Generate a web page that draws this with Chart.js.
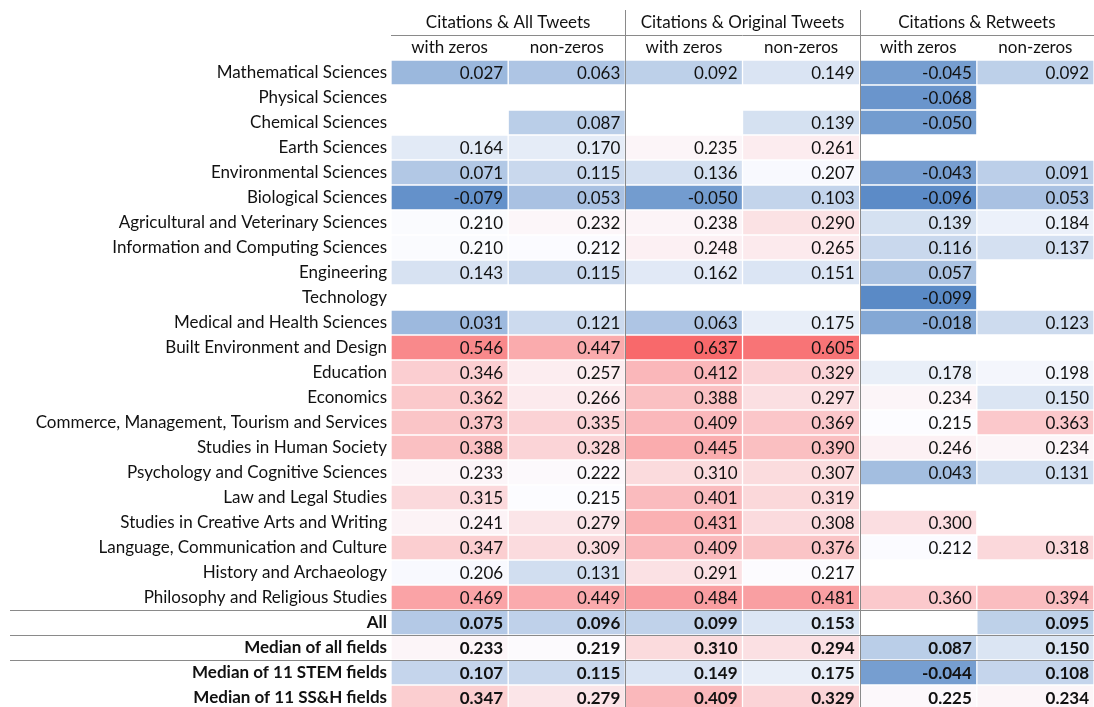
<!DOCTYPE html>
<html>
<head>
<meta charset="utf-8">
<script src="https://cdn.jsdelivr.net/npm/chart.js@4.4.0/dist/chart.umd.min.js"></script>
<style>
  html, body { margin: 0; padding: 0; background: #fff; overflow: hidden; }
  #wrap { width: 1094px; height: 710px; position: relative; }
</style>
</head>
<body>
<div id="wrap"><canvas id="tabela"></canvas></div>
<script>
var campos = [
  "Mathematical Sciences", "Physical Sciences", "Chemical Sciences", "Earth Sciences",
  "Environmental Sciences", "Biological Sciences", "Agricultural and Veterinary Sciences",
  "Information and Computing Sciences", "Engineering", "Technology",
  "Medical and Health Sciences", "Built Environment and Design", "Education", "Economics",
  "Commerce, Management, Tourism and Services", "Studies in Human Society",
  "Psychology and Cognitive Sciences", "Law and Legal Studies",
  "Studies in Creative Arts and Writing", "Language, Communication and Culture",
  "History and Archaeology", "Philosophy and Religious Studies",
  "All", "Median of all fields", "Median of 11 STEM fields", "Median of 11 SS&H fields"
];
var grupos = ["Citations & All Tweets", "Citations & Original Tweets", "Citations & Retweets"];
var subColunas = ["with zeros", "non-zeros", "with zeros", "non-zeros", "with zeros", "non-zeros"];

var todosComZeros = [0.027, null, null, 0.164, 0.071, -0.079, 0.210, 0.210, 0.143, null, 0.031, 0.546, 0.346, 0.362, 0.373, 0.388, 0.233, 0.315, 0.241, 0.347, 0.206, 0.469, 0.075, 0.233, 0.107, 0.347];
var todosSemZeros = [0.063, null, 0.087, 0.170, 0.115, 0.053, 0.232, 0.212, 0.115, null, 0.121, 0.447, 0.257, 0.266, 0.335, 0.328, 0.222, 0.215, 0.279, 0.309, 0.131, 0.449, 0.096, 0.219, 0.115, 0.279];
var origComZeros = [0.092, null, null, 0.235, 0.136, -0.050, 0.238, 0.248, 0.162, null, 0.063, 0.637, 0.412, 0.388, 0.409, 0.445, 0.310, 0.401, 0.431, 0.409, 0.291, 0.484, 0.099, 0.310, 0.149, 0.409];
var origSemZeros = [0.149, null, 0.139, 0.261, 0.207, 0.103, 0.290, 0.265, 0.151, null, 0.175, 0.605, 0.329, 0.297, 0.369, 0.390, 0.307, 0.319, 0.308, 0.376, 0.217, 0.481, 0.153, 0.294, 0.175, 0.329];
var rtComZeros = [-0.045, -0.068, -0.050, null, -0.043, -0.096, 0.139, 0.116, 0.057, -0.099, -0.018, null, 0.178, 0.234, 0.215, 0.246, 0.043, null, 0.300, 0.212, null, 0.360, null, 0.087, -0.044, 0.225];
var rtSemZeros = [0.092, null, null, null, 0.091, 0.053, 0.184, 0.137, null, null, 0.123, null, 0.198, 0.150, 0.363, 0.234, 0.131, null, null, 0.318, null, 0.394, 0.095, 0.150, 0.108, 0.234];

var colunas = [todosComZeros, todosSemZeros, origComZeros, origSemZeros, rtComZeros, rtSemZeros];

var fonte = "Lato, 'Open Sans', sans-serif";
var tamanho = 17;
var azul = [90, 138, 198];
var branco = [252, 252, 255];
var vermelho = [248, 105, 107];
var minimo = -0.099, meio = 0.214, maximo = 0.637;

function mistura(a, b, t) {
  return "rgb(" + Math.round(a[0] + (b[0] - a[0]) * t) + "," +
    Math.round(a[1] + (b[1] - a[1]) * t) + "," +
    Math.round(a[2] + (b[2] - a[2]) * t) + ")";
}

function corDoValor(v) {
  if (v === null) return "rgba(0,0,0,0)";
  if (v <= meio) return mistura(branco, azul, Math.min(1, (meio - v) / (meio - minimo)));
  return mistura(branco, vermelho, Math.min(1, (v - meio) / (maximo - meio)));
}

// ultimas 4 linhas em negrito
function ehTotal(i) {
  return i >= 22;
}

var datasets = [];
for (var j = 0; j < colunas.length; j++) {
  var col = colunas[j];
  datasets.push({
    label: subColunas[j],
    data: col.map(function (v) { return v === null ? null : [j, j + 1]; }),
    valores: col,
    backgroundColor: col.map(corDoValor),
    borderColor: "#ffffff",
    borderWidth: 1,
    borderSkipped: false,
    grouped: false,
    barPercentage: 1,
    categoryPercentage: 1
  });
}

const textoCelulas = {
  id: "textoCelulas",
  afterDatasetsDraw(chart) {
    const ctx = chart.ctx;
    ctx.save();
    ctx.textAlign = "right";
    ctx.textBaseline = "middle";
    ctx.fillStyle = "#111";
    chart.data.datasets.forEach(function (ds, d) {
      const meta = chart.getDatasetMeta(d);
      meta.data.forEach(function (el, i) {
        const v = ds.valores[i];
        if (v === null) return;
        ctx.font = (ehTotal(i) ? "bold " : "") + tamanho + "px " + fonte;
        ctx.fillText(v.toFixed(3), Math.max(el.x, el.base) - 5, el.y + 1);
      });
    });
    ctx.restore();
  }
};

const cabecalhoLinhas = {
  id: "cabecalhoLinhas",
  afterDraw(chart) {
    const ctx = chart.ctx;
    const x = chart.scales.x;
    const y = chart.scales.y;
    const area = chart.chartArea;
    ctx.save();
    ctx.fillStyle = "#111";
    ctx.textAlign = "center";
    ctx.textBaseline = "middle";
    ctx.font = tamanho + "px " + fonte;
    for (var g = 0; g < grupos.length; g++) {
      ctx.fillText(grupos[g], (x.getPixelForValue(g * 2) + x.getPixelForValue(g * 2 + 2)) / 2, 23);
    }
    for (var s = 0; s < subColunas.length; s++) {
      ctx.fillText(subColunas[s], (x.getPixelForValue(s) + x.getPixelForValue(s + 1)) / 2, 48);
    }
    ctx.strokeStyle = "#8a8a8a";
    ctx.lineWidth = 1;
    ctx.beginPath();
    ctx.moveTo(area.left, 35.5);
    ctx.lineTo(area.right, 35.5);
    [2, 4].forEach(function (c) {
      const px = Math.round(x.getPixelForValue(c)) + 0.5;
      ctx.moveTo(px, 10);
      ctx.lineTo(px, area.bottom);
    });
    [21, 22, 23].forEach(function (r) {
      const py = Math.round((y.getPixelForValue(r) + y.getPixelForValue(r + 1)) / 2) + 0.5;
      ctx.moveTo(10, py);
      ctx.lineTo(area.right, py);
    });
    ctx.stroke();
    ctx.restore();
  }
};

const config = {
  type: "bar",
  data: { labels: campos, datasets: datasets },
  options: {
    indexAxis: "y",
    responsive: true,
    maintainAspectRatio: false,
    animation: false,
    layout: { padding: { top: 60, left: 0, right: 0, bottom: 0 } },
    plugins: { legend: { display: false }, tooltip: { enabled: false } },
    scales: {
      x: { type: "linear", min: 0, max: 6, display: false },
      y: {
        grid: { display: false, drawTicks: false },
        border: { display: false },
        afterFit: function (s) {
          s.width = 391;
          s.paddingTop = 0;
          s.paddingBottom = 0;
        },
        ticks: {
          padding: 4,
          color: "#111",
          autoSkip: false,
          font: function (c) {
            return { family: fonte, size: tamanho, weight: ehTotal(c.index) ? "bold" : "normal" };
          }
        }
      }
    }
  },
  plugins: [textoCelulas, cabecalhoLinhas]
};

new Chart(document.getElementById("tabela"), config);
</script>
</body>
</html>
